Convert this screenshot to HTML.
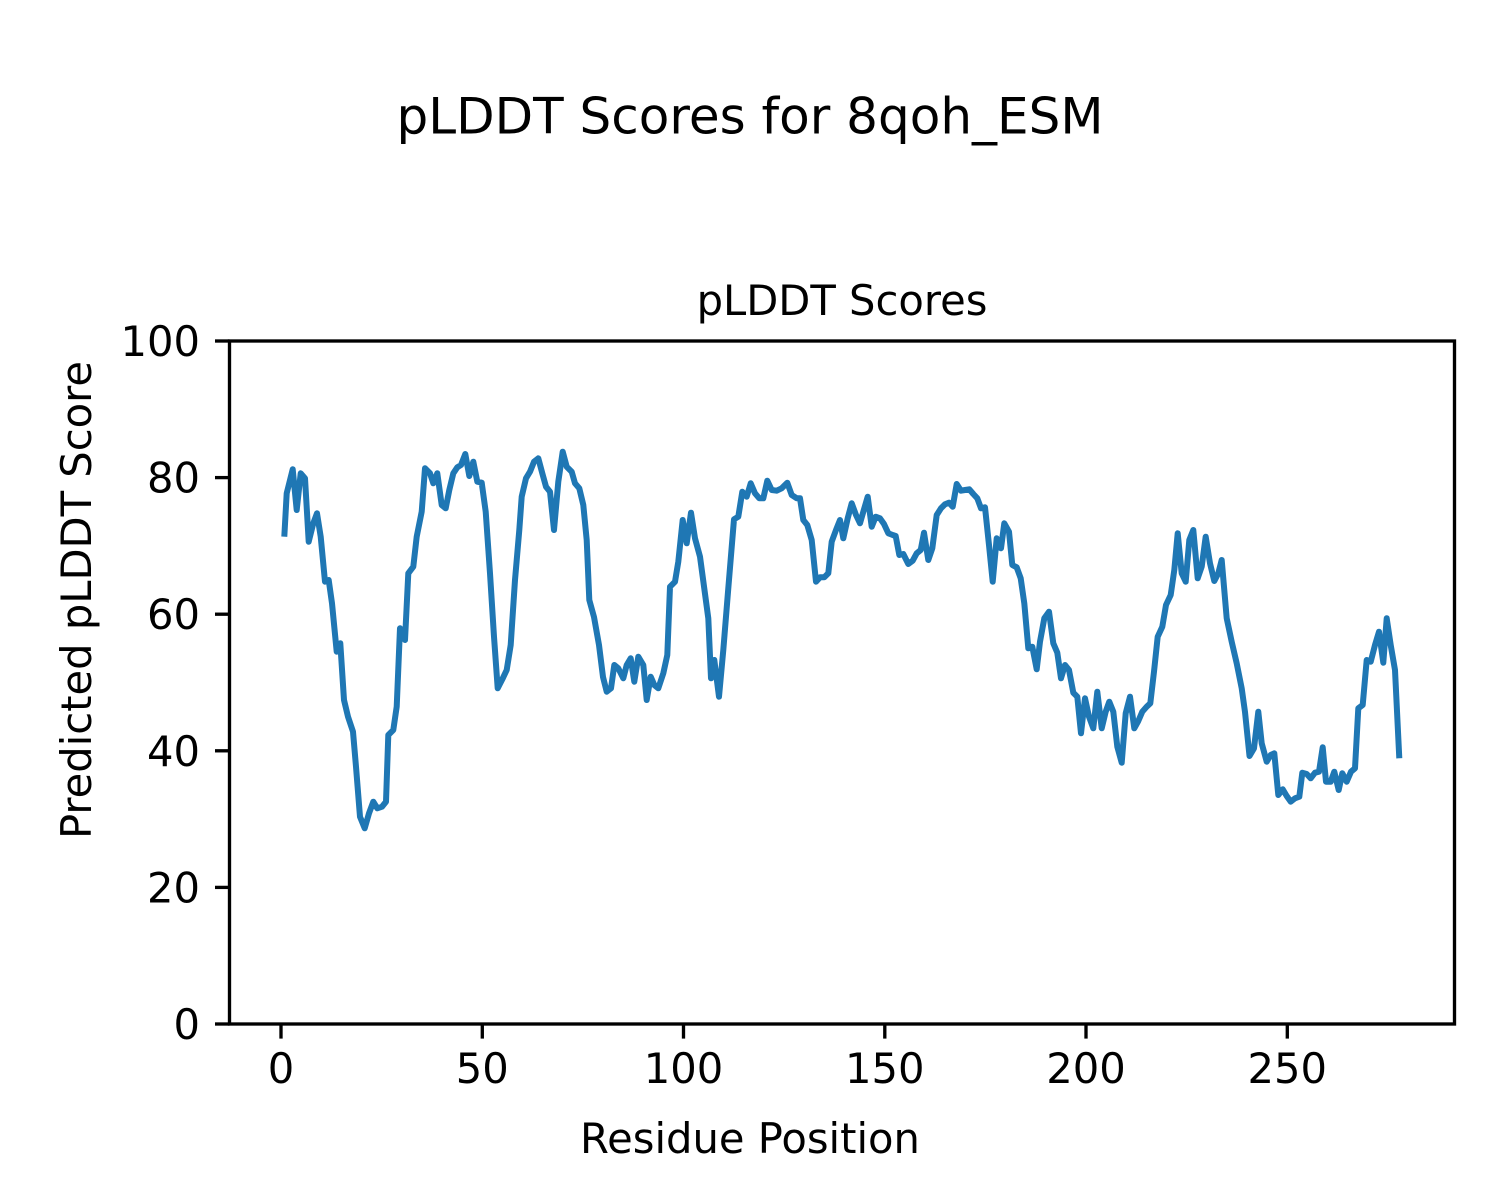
<!DOCTYPE html>
<html>
<head>
<meta charset="utf-8">
<style>
  html, body { margin: 0; padding: 0; background: #ffffff; }
  svg { display: block; }
  text { font-family: "DejaVu Sans", "Liberation Sans", sans-serif; fill: #000; }
</style>
</head>
<body>
<svg width="1500" height="1200" viewBox="0 0 1500 1200" xmlns="http://www.w3.org/2000/svg">
  <rect x="0" y="0" width="1500" height="1200" fill="#ffffff"/>

  <!-- Suptitle -->
  <text x="750" y="133.5" font-size="50" text-anchor="middle">pLDDT Scores for 8qoh_ESM</text>
  <!-- Axes title -->
  <text x="842" y="315" font-size="41.67" text-anchor="middle">pLDDT Scores</text>

  <!-- Data line -->
  <polyline fill="none" stroke="#1f77b4" stroke-width="6" stroke-linejoin="round" stroke-linecap="butt" points="
284.3,536.7 286.7,493.3 292.7,469.3 296.7,510 300.7,473.3 305,478.3 308.7,541.7 313.3,523.3 317,513.3 320.7,536.7
325,581.7 328.7,580 332,603.3 336.7,651.7 340.3,643.3 344,700 348,716.7 353,731.7 356,766.7 360,816.7
364.7,828.3 369,813.3 373.3,801.7 377.3,808.3 382,806.7 386,801.7 388.3,735 393.3,730 396.7,706.7 400,628.3
405,640 408.3,573.3 413.3,566.7 416.7,536.7 421.7,511.7
425,468.3 430,473.3 433.3,483.3 437.3,473.3 441.7,505 445.7,508.3 449.3,490 453.3,473.3 457.3,467.3 461,465
465.3,454 469.3,476 473.3,461.7 477.3,481.7 481.7,482.7 485.7,511.7 490,573.3 494,636.7 497.7,688.3 502.3,679.3
506.7,670 510.7,645 515,580 519.3,530 521.7,496.7 526,478.3 530,471.7 534,461.7 538.3,458.3 542.3,473.3
546,486.7 550,491.7 554,530 558.3,481.7 562.7,451.7 566.7,466.7 571.7,471.7 575,483.3 579.3,488.3 583.3,505
586.7,540 589.3,600 594,617 599,645 603,677
606.7,691.7 611,688.3 614.3,665 618.3,668.3 623.3,678.3 626.7,665 630.7,658.3 634.3,681.7 638.3,656.7 643.3,665
646.7,700 650.7,676.7 654.3,685 658.3,688.3 663.3,673.3 667.3,655 670,586.7 675,581.7 678.3,561.7 682.7,520
686.7,543.3 691,512.7 695,538.3 700,556.7 708.3,618.3 711,678.3 714.3,660 719,696.7 723.3,650 728.3,588.3
734,519.3 738.3,516.7 742.3,491.7 746.7,496.7 750.7,483.3 755,493.3 759.3,498.3 763.3,498.3
767.3,480.7 771.7,490 776.7,490.7 781.7,488.3 787.3,482.7 791.7,495 796.7,498.3 800,498.3 803.3,520 807.3,525
811.7,540 816,581.7 820,577.3 824.3,577.3 828.3,573.3 831.7,541.7 836,530 840,520 843.3,538.3 847.7,518.3
851.7,503.3 856,515 860,523.3 864.3,508.3 867.7,496.7 871.7,526.7 875.7,516.7 880,518.3 884,524 888.3,533.3
892.7,535 895.7,536 899.3,555 903.3,554 908.3,564 912.7,560.7 916.7,553.3 920.7,550 924,532.7 928.3,560
932.3,548.3 936.7,515 941,508.3 945,504.3 949,502.7 952.7,506.7 956.7,484 961,490.7 965,490 969.3,489.3
973.3,494 977.3,498.3 981,508.3 985,507.3 989,545 992.7,581.7 996.7,538.3 1001,548.3 1004.3,523.3 1009,531.7
1012.3,565 1016.7,567.3 1020.7,578.3 1024.3,603.3 1028.3,648.3 1032.3,646.7 1036.7,669.3 1040,641.7 1044.3,618.3 1049,611.7
1053.3,643.3 1057.3,652.7 1061,678.3 1065,665 1069,670 1073.3,692.7 1077.3,696.7 1081,733.3 1085,698.3 1089,716.7
1093.3,728.3 1097.3,691.7 1101.7,728.3 1105.7,711.7 1109.3,701.7 1113.3,711.7 1117.3,746.7 1121.7,762.7 1125.7,713.3 1130,696.7
1134.3,728.3 1138.3,721 1142.3,711.7 1146.7,706.7 1150.3,703.3 1154,671.7 1157.7,636.7 1162.3,626.7 1166,605 1170.7,595
1174.3,570 1177.7,533.3 1181.7,573.3 1185.7,581.7 1189.3,540 1193.3,530 1197.7,578.3 1201.7,566.7 1205.7,536.7 1210,563.3
1214.3,581 1218.3,573.3 1221.7,560 1226.7,618.3 1231.7,641.7 1236.7,663.3 1241.7,688.3 1245,712 1249.5,756
1254,748.3 1258.3,711.7 1261.7,743.3 1266.7,761.7 1270.7,755 1274.3,753.3 1278.3,795 1282.7,789.3 1286.7,796 1290.7,801.7
1295,798.3 1299.3,796.7 1302.3,772.7 1306.7,774 1310.7,778.3 1315,772.7 1319,771.7 1322.7,747.3 1326,781.7 1330.7,781.7
1334.3,771.7 1338.7,790 1342.3,773.3 1346.7,781.7 1351,771.7 1355,768.3 1358.3,708.3 1362.7,705 1366.7,660 1370.7,661.7
1375,645 1379,631.7 1383.3,662.7 1386.7,618.3 1390.7,645 1395,670 1399.3,758.3"/>

  <!-- Axes frame -->
  <rect x="229.5" y="341" width="1225" height="683" fill="none" stroke="#000" stroke-width="3.33" stroke-linejoin="miter"/>

  <!-- Y ticks -->
  <g stroke="#000" stroke-width="3.33">
    <line x1="215" y1="1024" x2="229.5" y2="1024"/>
    <line x1="215" y1="887.4" x2="229.5" y2="887.4"/>
    <line x1="215" y1="750.8" x2="229.5" y2="750.8"/>
    <line x1="215" y1="614.2" x2="229.5" y2="614.2"/>
    <line x1="215" y1="477.6" x2="229.5" y2="477.6"/>
    <line x1="215" y1="341" x2="229.5" y2="341"/>
  </g>
  <g font-size="41.67" text-anchor="end">
    <text x="200" y="1039">0</text>
    <text x="200" y="902.4">20</text>
    <text x="200" y="765.8">40</text>
    <text x="200" y="629.2">60</text>
    <text x="200" y="492.6">80</text>
    <text x="200" y="356">100</text>
  </g>

  <!-- X ticks -->
  <g stroke="#000" stroke-width="3.33">
    <line x1="281" y1="1024" x2="281" y2="1038.6"/>
    <line x1="482.3" y1="1024" x2="482.3" y2="1038.6"/>
    <line x1="683.5" y1="1024" x2="683.5" y2="1038.6"/>
    <line x1="884.8" y1="1024" x2="884.8" y2="1038.6"/>
    <line x1="1086" y1="1024" x2="1086" y2="1038.6"/>
    <line x1="1287.3" y1="1024" x2="1287.3" y2="1038.6"/>
  </g>
  <g font-size="41.67" text-anchor="middle">
    <text x="281" y="1083">0</text>
    <text x="482.3" y="1083">50</text>
    <text x="683.5" y="1083">100</text>
    <text x="884.8" y="1083">150</text>
    <text x="1086" y="1083">200</text>
    <text x="1287.3" y="1083">250</text>
  </g>

  <!-- Axis labels -->
  <text x="750" y="1153" font-size="41.67" text-anchor="middle">Residue Position</text>
  <text x="0" y="0" font-size="41.67" text-anchor="middle" transform="translate(91,600) rotate(-90)">Predicted pLDDT Score</text>
</svg>
</body>
</html>
